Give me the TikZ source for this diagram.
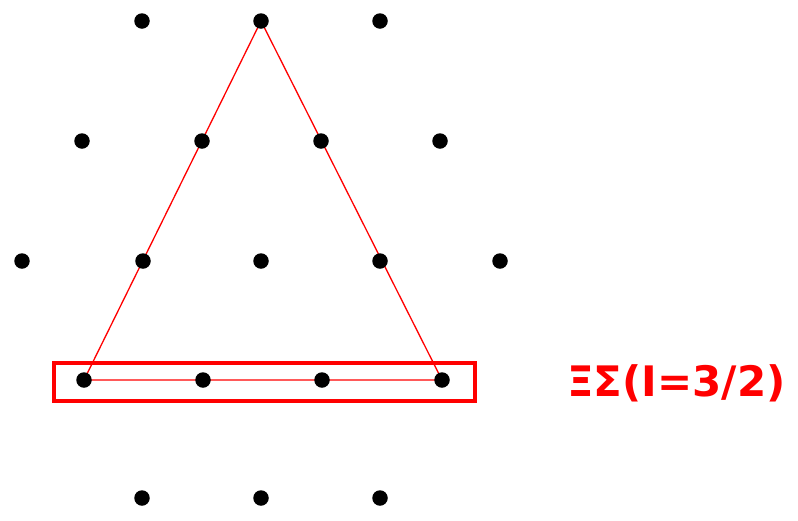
\documentclass[tikz,border=0pt]{standalone}
\usepackage{fontspec}
\usetikzlibrary{backgrounds}
\newfontfamily\labelfont{DejaVu Sans}
\begin{document}
\begin{tikzpicture}[x=1pt,y=-1pt,
  dot/.style={circle,fill=black,inner sep=0pt,minimum size=15.5pt},
  redline/.style={draw=red,line width=1.3pt},
  box/.style={draw=red,line width=3.8pt},
  lbl/.style={text=red,font=\labelfont\bfseries\fontsize{42}{44}\selectfont,inner sep=0pt,anchor=west}]
\useasboundingbox (0,0) rectangle (798,520);
% row 1
\node[dot] (a1) at (142,21) {};
\node[dot] (a2) at (261,21) {};
\node[dot] (a3) at (380,21) {};
% row 2
\node[dot] (b1) at (82,141) {};
\node[dot] (b2) at (202,141) {};
\node[dot] (b3) at (321,141) {};
\node[dot] (b4) at (440,141) {};
% row 3
\node[dot] (c1) at (22,261) {};
\node[dot] (c2) at (143,261) {};
\node[dot] (c3) at (261,261) {};
\node[dot] (c4) at (380,261) {};
\node[dot] (c5) at (500,261) {};
% row 4
\node[dot] (d1) at (84,380) {};
\node[dot] (d2) at (203,380) {};
\node[dot] (d3) at (322,380) {};
\node[dot] (d4) at (442,380) {};
% row 5
\node[dot] (e1) at (142,498) {};
\node[dot] (e2) at (261,498) {};
\node[dot] (e3) at (380,498) {};
% triangle
\begin{scope}[on background layer]
\draw[redline] (a2.center) -- (d1.center) -- (d4.center) -- cycle;
\end{scope}
\node[box,minimum width=421pt,minimum height=38pt,inner sep=0pt] (rect) at (264.5,382) {};
\node[lbl] (label) at (567,383) {ΞΣ(I=3/2)};
\end{tikzpicture}
\end{document}
